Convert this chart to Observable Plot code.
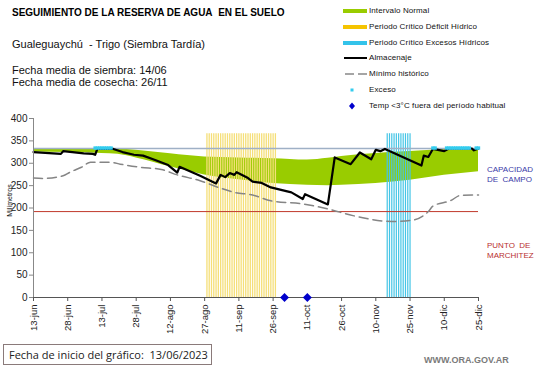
<!DOCTYPE html>
<html>
<head>
<meta charset="utf-8">
<script src="https://cdn.jsdelivr.net/npm/d3@7"></script>
<script src="https://cdn.jsdelivr.net/npm/@observablehq/plot@0.6"></script>
<style>
  body { margin: 0; background: #fff; }
  #wrap { position: relative; width: 541px; height: 368px; overflow: hidden; font-family: "Liberation Sans", Arial, sans-serif; }
  #wrap svg.plot { position: absolute; left: 0; top: 0; }
  .t { position: absolute; white-space: nowrap; }
  .lg { position: absolute; left: 369px; font-size: 8px; letter-spacing: 0.1px; color: #111; white-space: nowrap; }
  .sw { position: absolute; }
</style>
</head>
<body>
<div id="wrap"></div>
<script>
// ---- data ----
const tickDates = ["2023-06-13","2023-06-28","2023-07-13","2023-07-28","2023-08-12","2023-08-27","2023-09-11","2023-09-26","2023-10-11","2023-10-26","2023-11-10","2023-11-25","2023-12-10","2023-12-25"];
const tickLabels = ["13-jun","28-jun","13-jul","28-jul","12-ago","27-ago","11-sep","26-sep","11-oct","26-oct","10-nov","25-nov","10-dic","25-dic"];
const yTicks = [0, 50, 100, 150, 200, 250, 300, 350, 400];

const capacidadCampo = 333;
const puntoMarchitez = 192;

// Intervalo normal (banda)
const bandDates = ["2023-06-13","2023-06-28","2023-07-13","2023-07-20","2023-07-28","2023-08-12","2023-08-27","2023-09-11","2023-09-26","2023-10-11","2023-10-20","2023-10-26","2023-11-10","2023-11-25","2023-12-10","2023-12-25"];
const bandLow  = [325, 324, 322, 320, 312, 292, 274, 263, 255, 251, 250, 251, 255, 262, 273, 281];
const bandHigh = [333, 333, 333, 332, 329, 321, 314, 312, 310, 307, 311, 315, 322, 326, 330, 329];

// Almacenaje
const almDates = ["2023-06-13","2023-06-25","2023-06-26","2023-07-05","2023-07-09","2023-07-10","2023-07-11","2023-07-18","2023-07-22","2023-07-27","2023-07-31","2023-08-05","2023-08-11","2023-08-15","2023-08-16","2023-08-25","2023-09-01","2023-09-03","2023-09-05","2023-09-07","2023-09-09","2023-09-10","2023-09-15","2023-09-17","2023-09-21","2023-09-25","2023-10-04","2023-10-09","2023-10-10","2023-10-20","2023-10-23","2023-10-30","2023-11-03","2023-11-08","2023-11-10","2023-11-12","2023-11-14","2023-11-30","2023-12-01","2023-12-03","2023-12-05","2023-12-10","2023-12-12","2023-12-22","2023-12-23","2023-12-25"];
const almValues = [325, 321, 327, 322, 321, 319, 332, 332, 325, 319, 317, 308, 296, 279, 292, 272, 255, 274, 269, 278, 274, 280, 267, 259, 256, 246, 235, 220, 231, 208, 313, 298, 324, 309, 330, 327, 332, 295, 317, 314, 332, 327, 333, 333, 329, 333];

// Mínimo histórico
const minDates = ["2023-06-13","2023-06-17","2023-06-26","2023-06-29","2023-07-04","2023-07-08","2023-07-17","2023-07-21","2023-07-30","2023-08-08","2023-08-15","2023-08-25","2023-09-02","2023-09-09","2023-09-17","2023-09-25","2023-10-09","2023-10-20","2023-10-31","2023-11-17","2023-11-25","2023-12-03","2023-12-05","2023-12-13","2023-12-17","2023-12-25"];
const minValues = [267, 266, 272, 280, 291, 302, 302, 298, 291, 286, 274, 261, 246, 235, 229, 216, 209, 198, 183, 170, 172, 192, 204, 217, 228, 229];

// Períodos críticos
const deficitPeriod = ["2023-08-28", "2023-09-27"];
const excesoPeriod = ["2023-11-15", "2023-11-25"];
const periodTop = 366;

// Exceso (días sobre capacidad de campo)
const excesoDates = ["2023-07-10","2023-07-11","2023-07-12","2023-07-13","2023-07-14","2023-07-15","2023-07-16","2023-07-17","2023-12-05","2023-12-06","2023-12-11","2023-12-12","2023-12-13","2023-12-14","2023-12-15","2023-12-16","2023-12-17","2023-12-18","2023-12-19","2023-12-20","2023-12-21","2023-12-24","2023-12-25"];
const excesoValue = 334;

// Temp < 3°C fuera del período habitual
const heladaDates = ["2023-10-01", "2023-10-11"];

// ---- build ----
const P = s => new Date(s + "T00:00:00Z");
const band = bandDates.map((d, i) => ({date: P(d), lo: bandLow[i], hi: bandHigh[i]}));
const alm = almDates.map((d, i) => ({date: P(d), v: almValues[i]}));
const minH = minDates.map((d, i) => ({date: P(d), v: minValues[i]}));
const deficitDays = d3.utcDay.range(P(deficitPeriod[0]), d3.utcDay.offset(P(deficitPeriod[1]), 1));
const excesoDays = d3.utcDay.range(P(excesoPeriod[0]), d3.utcDay.offset(P(excesoPeriod[1]), 1));
const ticks = tickDates.map(P);

const chart = Plot.plot({
  width: 541,
  height: 368,
  marginLeft: 33,
  marginRight: 63,
  marginTop: 118,
  marginBottom: 71,
  style: {fontFamily: "Liberation Sans, Arial, sans-serif", color: "#222", background: "transparent"},
  x: {type: "utc", domain: [P(tickDates[0]), P(tickDates[tickDates.length - 1])]},
  y: {domain: [0, 400]},
  marks: [
    Plot.areaY(band, {x: "date", y1: "lo", y2: "hi", fill: "#99cc00", curve: "monotone-x"}),
    Plot.ruleX(deficitDays, {x: d => d, y1: 0, y2: periodTop, stroke: "#f5df78", strokeWidth: 1.3}),
    Plot.ruleX(excesoDays, {x: d => d, y1: 0, y2: periodTop, stroke: "#45c5e6", strokeWidth: 1.2}),
    Plot.ruleY([capacidadCampo], {stroke: "#9fb0c6", strokeWidth: 1.6}),
    Plot.ruleY([puntoMarchitez], {stroke: "#c0392b", strokeWidth: 1}),
    Plot.lineY(minH, {x: "date", y: "v", stroke: "#858585", strokeWidth: 1.5, strokeDasharray: "9,5", curve: "monotone-x"}),
    Plot.lineY(alm, {x: "date", y: "v", stroke: "#000", strokeWidth: 2.2}),
    Plot.dot(excesoDates, {x: d => P(d), y: excesoValue, symbol: "square", r: 1.9, fill: "#33ccee", stroke: "none"}),
    Plot.ruleY([0], {stroke: "#555", strokeWidth: 1}),
    Plot.ruleX([P(tickDates[0])], {y1: 0, y2: 400, stroke: "#888", strokeWidth: 1}),
    Plot.axisY({ticks: yTicks, tickSize: 4, tickPadding: 2, fontSize: 10, label: null, stroke: "#888"}),
    Plot.axisX({ticks: ticks, tickFormat: (d, i) => tickLabels[i], tickRotate: -90, tickSize: 4, tickPadding: 3, fontSize: 9.5, label: null, stroke: "#555"}),
    Plot.dot(heladaDates, {x: d => P(d), y: 0, symbol: "diamond2", r: 4, fill: "#0000cc", stroke: "none"})
  ]
});
chart.classList.add("plot");
const wrap = document.getElementById("wrap");
wrap.appendChild(chart);

function add(html, css, cls) {
  const el = document.createElement("div");
  el.className = cls || "t";
  el.innerHTML = html;
  el.style.cssText = css;
  wrap.appendChild(el);
  return el;
}
add("SEGUIMIENTO DE LA RESERVA DE AGUA&nbsp; EN EL SUELO", "left:12px;top:7px;font-size:10px;font-weight:bold;color:#000;");
add("Gualeguaychú&nbsp; - Trigo (Siembra Tardía)", "left:12px;top:38px;font-size:11px;color:#111;");
add("Fecha media de siembra: 14/06", "left:12px;top:64px;font-size:11px;color:#111;");
add("Fecha media de cosecha: 26/11", "left:12px;top:76px;font-size:11px;color:#111;");
add("Milímetros", "left:-8px;top:197px;font-size:7px;color:#111;transform:rotate(-90deg);transform-origin:center;width:34px;text-align:center;");
add("CAPACIDAD<br>DE&nbsp; CAMPO", "left:487px;top:165px;font-size:8px;line-height:10px;color:#3a3aa8;");
add("PUNTO&nbsp; DE<br>MARCHITEZ", "left:487px;top:241px;font-size:8px;line-height:10px;color:#b83030;");
add("Fecha de inicio del gráfico:&nbsp; 13/06/2023", "left:3px;top:344px;width:202px;height:19px;line-height:19px;padding-left:5px;border:1px solid #8a7a7a;font-size:11px;color:#222;font-family:'Open Sans',sans-serif;");
add("WWW.ORA.GOV.AR", "left:424px;top:355px;font-size:9px;font-weight:bold;color:#7a7a7a;");

// legend
const legendRows = [
  {label: "Intervalo Normal", kind: "bar", color: "#99cc00"},
  {label: "Periodo Crítico Déficit Hídrico", kind: "bar", color: "#f5c400"},
  {label: "Periodo Crítico Excesos Hídricos", kind: "bar", color: "#33c3ea"},
  {label: "Almacenaje", kind: "line", color: "#000"},
  {label: "Mínimo histórico", kind: "dash", color: "#888"},
  {label: "Exceso", kind: "sq", color: "#33ccee"},
  {label: "Temp &lt;3°C fuera del período habitual", kind: "dia", color: "#0000cc"}
];
const rowY = [11, 27, 43, 58, 74, 90, 106];
legendRows.forEach((r, i) => {
  const cy = rowY[i];
  let sw = "";
  if (r.kind === "bar") sw = `<svg width="24" height="6"><rect x="0" y="1" width="24" height="4" fill="${r.color}"/></svg>`;
  if (r.kind === "line") sw = `<svg width="24" height="6"><line x1="1" x2="24" y1="3" y2="3" stroke="#000" stroke-width="2"/></svg>`;
  if (r.kind === "dash") sw = `<svg width="24" height="6"><line x1="2" x2="24" y1="3" y2="3" stroke="#888" stroke-width="1.5" stroke-dasharray="9,4"/></svg>`;
  if (r.kind === "sq") sw = `<svg width="24" height="6"><rect x="7.5" y="1.5" width="3" height="3" fill="${r.color}"/></svg>`;
  if (r.kind === "dia") sw = `<svg width="24" height="8"><path d="M9,0.5 L12,4 L9,7.5 L6,4 Z" fill="${r.color}"/></svg>`;
  add(sw, `left:343px;top:${cy - (r.kind === "dia" ? 4 : 3)}px;line-height:0;`, "sw");
  add(r.label, `top:${cy - 5}px;`, "lg");
});
</script>
</body>
</html>
